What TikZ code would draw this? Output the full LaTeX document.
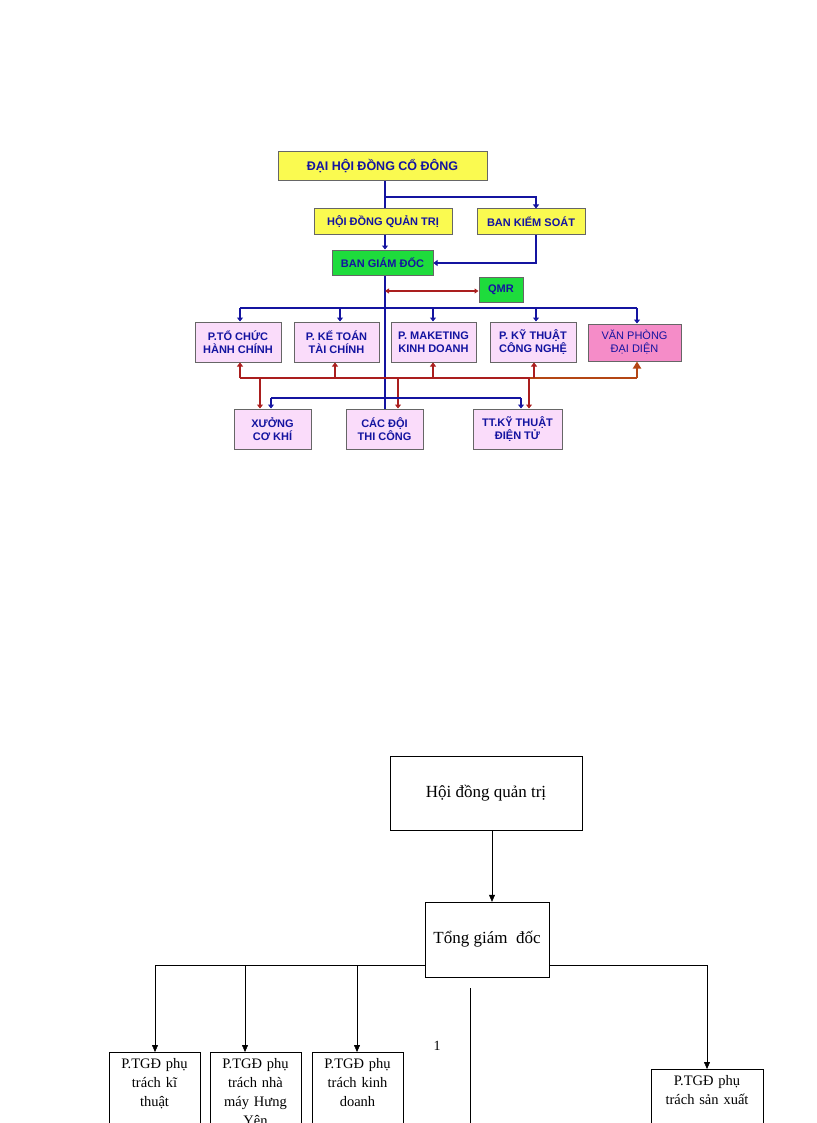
\documentclass[tikz,border=0pt]{standalone}
\usepackage{fontspec}
\setmainfont{Liberation Serif}
\newfontfamily\ars{Liberation Sans}
\usetikzlibrary{arrows.meta}
\definecolor{bl}{RGB}{20,20,160}
\definecolor{rd}{RGB}{170,30,30}
\definecolor{br}{RGB}{180,70,20}
\definecolor{yl}{RGB}{250,250,80}
\definecolor{gr}{RGB}{30,220,60}
\definecolor{pk}{RGB}{250,220,250}
\definecolor{pk2}{RGB}{245,140,200}
\begin{document}
\begin{tikzpicture}[x=1pt,y=-1pt,
 tb/.style={draw=black!60,line width=1pt,font=\ars\bfseries\fontsize{11}{13}\selectfont,text=bl,align=center,inner sep=0pt},
 bln/.style={bl,line width=2.2pt},
 rdn/.style={rd,line width=2.2pt},
 ba/.style={-{Triangle[length=4pt,width=6pt]}},
 wb/.style={align=center,font=\fontsize{14.5}{19}\selectfont,inner xsep=1pt,inner ysep=6pt},
 ar/.style={-{Triangle[length=7pt,width=6pt]},thin}]
\useasboundingbox (0,0) rectangle (816,1123);
\clip (0,0) rectangle (816,1123);
% top chart
\node[tb,fill=yl,minimum width=209,minimum height=29,font=\ars\bfseries\fontsize{12.5}{14}\selectfont] (dh) at (382.5,166.5) {ĐẠI HỘI ĐỒNG CỔ ĐÔNG};
\node[tb,fill=yl,minimum width=138,minimum height=26] (hd) at (383,222) {HỘI ĐỒNG QUẢN TRỊ};
\node[tb,fill=yl,minimum width=108,minimum height=26] (bk) at (531,222) {BAN KIỂM SOÁT};
\node[tb,fill=gr,minimum width=101,minimum height=25] (bg) at (382.5,262.5) {BAN GIÁM ĐỐC};
\node[tb,fill=gr,minimum width=44,minimum height=25] (qm) at (501,289.5) {QMR};
\node[tb,fill=pk,minimum width=86,minimum height=40] (p1) at (238,342) {P.TỔ CHỨC\\HÀNH CHÍNH};
\node[tb,fill=pk,minimum width=85,minimum height=40] (p2) at (336.5,342) {P. KẾ TOÁN\\TÀI CHÍNH};
\node[tb,fill=pk,minimum width=85,minimum height=40] (p3) at (433.5,342) {P. MAKETING\\KINH DOANH};
\node[tb,fill=pk,minimum width=86,minimum height=40] (p4) at (533,342) {P. KỸ THUẬT\\CÔNG NGHỆ};
\node[tb,fill=pk2,minimum width=93,minimum height=37,font=\ars\fontsize{11}{13}\selectfont] (p5) at (634.5,342.5) {VĂN PHÒNG\\ĐẠI DIỆN};
\node[tb,fill=pk,minimum width=77,minimum height=40] (x1) at (272.5,429) {XƯỞNG\\CƠ KHÍ};
\node[tb,fill=pk,minimum width=77,minimum height=40] (x2) at (384.5,429) {CÁC ĐỘI\\THI CÔNG};
\node[tb,fill=pk,minimum width=89,minimum height=40] (x3) at (517.5,429) {TT.KỸ THUẬT\\ĐIỆN TỬ};
\coordinate (j1) at (385,197);
\coordinate (j2) at (536,197);
\draw[bln] (dh.south -| j1) -- (hd.north -| j1);
\draw[bln,ba] (j1) -- (j2) -- (bk.north -| j2);
\draw[bln,ba] (hd.south -| j1) -- (bg.north -| j1);
\draw[bln,ba] (bk.south -| j2) -- (536,263) -- (bg.east |- 0,263);
\draw[bln] (bg.south -| j1) -- (x2.north -| j1);
\draw[rd,line width=1.4pt,{Triangle[length=4pt,width=5pt]}-{Triangle[length=4pt,width=5pt]}] (385,291) -- (qm.west |- 0,291);
\draw[bln] (240,308) -- (637,308);
\foreach \p/\x in {p1/240,p2/340,p3/433,p4/536,p5/637}
  \draw[bln,ba] (\x,308) -- (\p.north -| \x,0);
\draw[rdn] (240,378) -- (530,378);
\draw[br,line width=2.2pt] (530,378) -- (637,378);
\draw[br,line width=2.2pt,-{Triangle[length=7pt,width=8pt]}] (637,378) -- (p5.south -| 637,0);
\foreach \p/\x in {p1/240,p2/335,p3/433,p4/534}
  \draw[rd,line width=1.6pt,ba] (\x,378) -- (\p.south -| \x,0);
\foreach \p/\x in {x1/260,x2/398,x3/529}
  \draw[rdn,ba] (\x,378) -- (\p.north -| \x,0);
\draw[bln] (271,398) -- (521,398);
\draw[bln,ba] (271,398) -- (x1.north -| 271,0);
\draw[bln,ba] (521,398) -- (x3.north -| 521,0);
% bottom chart
\node[draw,thin,minimum width=192,minimum height=74,font=\fontsize{17}{20}\selectfont] (a) at (486,793) {Hội đồng quản trị};
\node[draw,thin,minimum width=124,minimum height=75,font=\fontsize{17}{20}\selectfont,inner sep=0pt] (t) at (487,939.5) {Tổng giám\ \ đốc};
\draw[ar] (a.south -| 492,0) -- (t.north -| 492,0);
\node[wb,anchor=north,text width=89] (b1) at (154.5,1052) {P.TGĐ phụ\\trách kĩ\\thuật};
\node[wb,anchor=north,text width=89] (b2) at (255.5,1052) {P.TGĐ phụ\\trách nhà\\máy Hưng\\Yên};
\node[wb,anchor=north,text width=89] (b3) at (357.5,1052) {P.TGĐ phụ\\trách kinh\\doanh};
\node[wb,anchor=north,text width=110] (b4) at (707,1069) {P.TGĐ phụ\\trách sản xuất};
\foreach \b in {b1,b2,b3,b4}
  \draw[thin] (\b.north west) rectangle (\b.east |- 0,1140);
\draw[thin] (t.west |- 0,965) -- (155,965);
\draw[thin] (t.east |- 0,965) -- (707,965);
\foreach \b/\x in {b1/155,b2/245,b3/357}
  \draw[ar] (\x,965) -- (\b.north -| \x,0);
\draw[ar] (707,965) -- (b4.north);
\coordinate (v1) at (470,988);
\coordinate (v2) at (470,1123);
\draw[thin] (v1) -- (v2);
\node[font=\fontsize{14}{16}\selectfont] (n1) at (437,1046) {1};
\end{tikzpicture}
\end{document}
